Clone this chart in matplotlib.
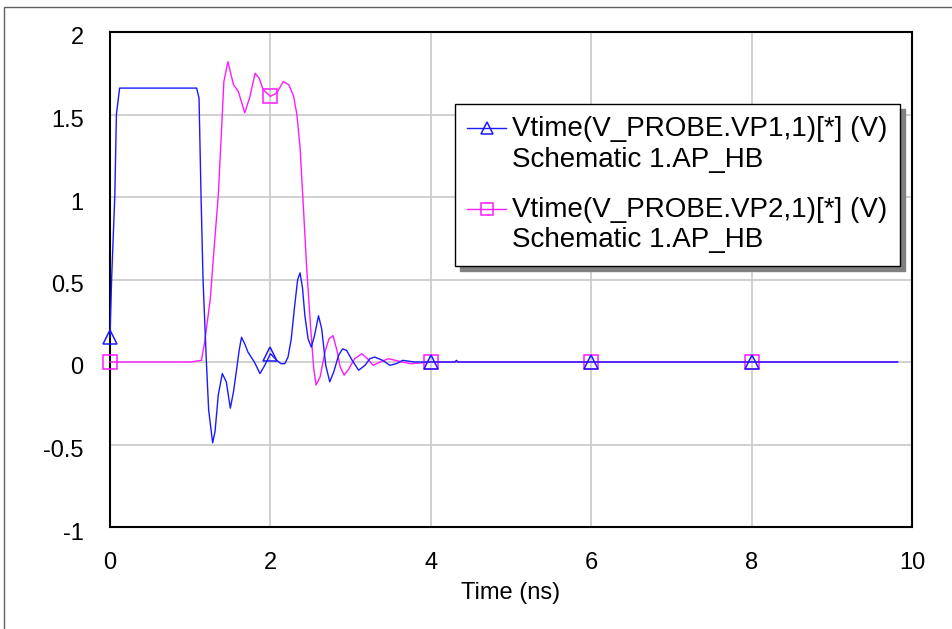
import numpy as np
import matplotlib.pyplot as plt
import matplotlib.transforms as mtransforms
from matplotlib.legend_handler import HandlerLine2D
from matplotlib.patches import Rectangle

plt.rcParams['font.family'] = ['Liberation Sans', 'DejaVu Sans']

# Time axis (ns) and probe voltages (V)
t_vp1 = [0.0, 0.02, 0.06, 0.08, 0.12, 0.3, 0.6, 0.9, 1.08, 1.11, 1.135, 1.16, 1.20,
         1.23, 1.28, 1.31, 1.35, 1.40, 1.45, 1.50, 1.54, 1.58, 1.61, 1.64, 1.68,
         1.72, 1.80, 1.87, 1.93, 2.0, 2.04, 2.08, 2.13, 2.18, 2.22, 2.26, 2.30,
         2.34, 2.37, 2.40, 2.43, 2.47, 2.51, 2.55, 2.60, 2.64, 2.69, 2.74, 2.79,
         2.85, 2.90, 2.95, 3.02, 3.10, 3.18, 3.24, 3.30, 3.40, 3.49, 3.57, 3.65,
         3.80, 4.0, 4.30, 4.32, 4.34, 5.0, 6.0, 7.0, 8.0, 9.0, 9.82]
v_vp1 = [0.15, 0.50, 1.01, 1.50, 1.66, 1.66, 1.66, 1.66, 1.66, 1.60, 1.01, 0.50, 0.02,
         -0.29, -0.49, -0.42, -0.20, -0.07, -0.12, -0.28, -0.18, -0.04, 0.07, 0.15, 0.11,
         0.06, 0.00, -0.07, -0.02, 0.05, 0.03, 0.01, -0.01, -0.01, 0.03, 0.14, 0.33,
         0.50, 0.54, 0.45, 0.28, 0.14, 0.09, 0.16, 0.28, 0.20, -0.02, -0.12, -0.06,
         0.04, 0.08, 0.07, 0.01, -0.05, -0.02, 0.02, 0.03, 0.01, -0.02, -0.01, 0.01,
         0.00, 0.00, 0.00, 0.01, 0.00, 0.00, 0.00, 0.00, 0.00, 0.00, 0.00]

t_vp2 = [0.0, 0.5, 1.0, 1.14, 1.18, 1.25, 1.30, 1.35, 1.39, 1.42, 1.47, 1.50, 1.54,
         1.60, 1.68, 1.74, 1.81, 1.86, 1.91, 2.0, 2.08, 2.16, 2.23, 2.29, 2.33,
         2.37, 2.41, 2.45, 2.50, 2.54, 2.57, 2.62, 2.68, 2.73, 2.78, 2.83, 2.87,
         2.92, 2.98, 3.05, 3.14, 3.21, 3.28, 3.37, 3.47, 3.56, 3.64, 3.75, 4.0,
         5.0, 6.0, 7.0, 8.0, 9.0, 9.82]
v_vp2 = [0.0, 0.0, 0.0, 0.01, 0.12, 0.38, 0.70, 1.01, 1.40, 1.70, 1.82, 1.76, 1.68,
         1.64, 1.51, 1.60, 1.75, 1.72, 1.65, 1.61, 1.63, 1.70, 1.68, 1.61, 1.50,
         1.30, 0.95, 0.59, 0.22, -0.04, -0.14, -0.09, 0.06, 0.14, 0.16, 0.07, -0.03,
         -0.08, -0.04, 0.02, 0.05, 0.02, -0.02, 0.00, 0.02, 0.01, 0.00, -0.01, 0.0,
         0.0, 0.0, 0.0, 0.0, 0.0, 0.0]

marker_times = [0, 2, 4, 6, 8]
x_ticks = [0, 2, 4, 6, 8, 10]
y_ticks = [-1, -0.5, 0, 0.5, 1, 1.5, 2]
y_tick_labels = ['-1', '-0.5', '0', '0.5', '1', '1.5', '2']

label_vp1 = 'Vtime(V_PROBE.VP1,1)[*] (V)\nSchematic 1.AP_HB'
label_vp2 = 'Vtime(V_PROBE.VP2,1)[*] (V)\nSchematic 1.AP_HB'


class TopLineHandler(HandlerLine2D):
    # put the legend sample beside the first text line instead of the middle
    def create_artists(self, legend, orig_handle, xdescent, ydescent,
                       width, height, fontsize, trans):
        arts = super().create_artists(legend, orig_handle, xdescent, ydescent,
                                      width, height, fontsize, trans)
        for a in arts:
            a.set_ydata(np.asarray(a.get_ydata(), dtype=float) + 0.6 * fontsize)
        return arts


def marker_idx(t):
    t = np.asarray(t)
    return [int(np.argmin(np.abs(t - m))) for m in marker_times]


fig = plt.figure(figsize=(9.52, 6.29), dpi=100)
W, H = 952, 629
ax = fig.add_axes([110 / W, (H - 527) / H, 802 / W, 495 / H])

# outer frame of the plot window
fig.patches.append(Rectangle((4 / W, 0 - 0.05), 1.2, 1 - 7 / H + 0.05,
                             transform=fig.transFigure, fill=False,
                             edgecolor='#606060', linewidth=1.0))

line1, = ax.plot(t_vp1, v_vp1, color='#1a1aff', lw=1.0, marker='^', markersize=10,
                 markerfacecolor='none', markeredgewidth=1.1,
                 markevery=marker_idx(t_vp1), clip_on=False, zorder=4)
line2, = ax.plot(t_vp2, v_vp2, color='#ff1aff', lw=1.0, marker='s', markersize=10,
                 markerfacecolor='none', markeredgewidth=1.1,
                 markevery=marker_idx(t_vp2), clip_on=False, zorder=3)

ax.set_xlim(0, 10)
ax.set_ylim(-1, 2)
ax.set_xticks(x_ticks)
ax.set_xticklabels([str(v) for v in x_ticks])
ax.set_yticks(y_ticks)
ax.set_yticklabels(y_tick_labels)
ax.tick_params(axis='both', length=0, labelsize=17)
ax.tick_params(axis='x', pad=18)
ax.tick_params(axis='y', pad=19)
ax.grid(True, color='#c8c8c8', lw=1.2)
ax.set_axisbelow(True)
for s in ax.spines.values():
    s.set_linewidth(1.5)
    s.set_color('black')

# y labels sit a little below their grid lines in the reference
shift = mtransforms.ScaledTranslation(0, -4 / 100, fig.dpi_scale_trans)
for tk in ax.yaxis.get_major_ticks():
    tk.label1.set_transform(tk.label1.get_transform() + shift)

ax.set_xlabel('Time (ns)', fontsize=17, labelpad=6)

leg = ax.legend([line1, line2], [label_vp1, label_vp2],
                handler_map={line1: TopLineHandler(marker_pad=0.3, numpoints=1),
                             line2: TopLineHandler(marker_pad=0.3, numpoints=1)},
                loc='upper left', bbox_to_anchor=(0.430, 0.855), borderaxespad=0,
                fontsize=20, handlelength=1.4, handletextpad=0.2, borderpad=0.45,
                labelspacing=0.87, fancybox=False, framealpha=1,
                shadow={'color': '#808080', 'alpha': 1, 'ox': 4, 'oy': -4})
leg.get_frame().set_edgecolor('black')
leg.get_frame().set_linewidth(1.0)
for txt in leg.get_texts():
    txt.set_linespacing(1.22)
for h in leg.legend_handles:
    h.set_markersize(9)

fig.savefig('out.png', dpi=100)
